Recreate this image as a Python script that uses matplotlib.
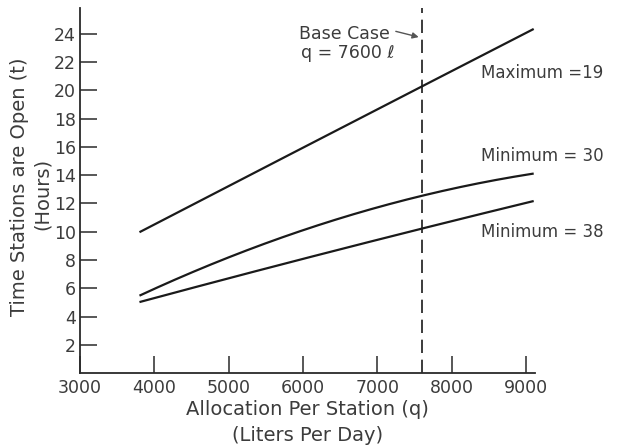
import matplotlib
matplotlib.use("Agg")
import matplotlib.pyplot as plt
import numpy as np

# Allocation per station (liters per day) and hours stations are open
alloc = [3800, 5000, 6000, 7000, 7600, 9100]
max_19 = [10.0, 13.2, 15.9, 18.7, 20.3, 24.3]
min_30 = [5.5, 8.2, 10.1, 11.7, 12.6, 14.1]
min_38 = [5.0, 6.8, 8.1, 9.4, 10.2, 12.2]

series_labels = ["Maximum =19", "Minimum = 30", "Minimum = 38"]
label_y = [21.2, 15.35, 10.0]
base_case = 7600

x_ticks = [3000, 4000, 5000, 6000, 7000, 8000, 9000]
y_ticks = [2, 4, 6, 8, 10, 12, 14, 16, 18, 20, 22, 24]

ink = "#2a2a2a"
text_ink = "#3c3c3c"
plt.rcParams["font.family"] = ["DejaVu Sans"]

fig = plt.figure(figsize=(6.18, 4.45), dpi=100)
ax = fig.add_axes([0.1294, 0.1607, 0.866 - 0.1294, 0.982 - 0.1607])

def smooth(xs, ys):
    xs = np.asarray(xs, float)
    ys = np.asarray(ys, float)
    coef = np.polyfit(xs, ys, 2)
    xx = np.linspace(xs[0], xs[-1], 200)
    return xx, np.polyval(coef, xx)

for ys in (max_19, min_30, min_38):
    xx, yy = smooth(alloc, ys)
    ax.plot(xx, yy, color="#1a1a1a", lw=1.6, solid_capstyle="butt")

ax.axvline(base_case, color="#1a1a1a", lw=1.2, dashes=(8, 4))

ax.set_xlim(3044, 9120)
ax.set_ylim(0, 25.8)

for s in ("top", "right"):
    ax.spines[s].set_visible(False)
for s in ("left", "bottom"):
    ax.spines[s].set_color(ink)
    ax.spines[s].set_linewidth(1.3)

ax.set_xticks(x_ticks)
ax.set_yticks(y_ticks)
ax.set_xticklabels([str(v) for v in x_ticks])
ax.set_yticklabels([str(v) for v in y_ticks])
ax.tick_params(axis="both", direction="in", length=12, width=1.1, color=ink,
               labelsize=12.5, labelcolor=text_ink)
ax.tick_params(axis="y", pad=3)
ax.tick_params(axis="x", pad=4)
for lbl in ax.get_xticklabels():
    lbl.set_x(lbl.get_position()[0])

# Curve labels on the right
for ly, txt in zip(label_y, series_labels):
    ax.text(8386, ly, txt, fontsize=12, color=text_ink, va="center", ha="left",
            clip_on=False)

# Base case annotation
ax.text(6560, 24.0, "Base Case", fontsize=12.5, color=text_ink, ha="center", va="center")
ax.text(6600, 22.6, "q = 7600 \u2113", fontsize=12.5, color=text_ink, ha="center", va="center")
ax.annotate("", xy=(base_case - 10, 23.7), xytext=(7210, 24.2),
            arrowprops=dict(arrowstyle="-|>", color="#555555", lw=1.0,
                            mutation_scale=9))

ax.set_xlabel("Allocation Per Station (q)\n(Liters Per Day)", fontsize=14,
              color=text_ink, linespacing=1.45, labelpad=2)
fig.text(0.032, 0.58, "Time Stations are Open (t)", rotation=90, fontsize=14,
         color=text_ink, ha="center", va="center")
fig.text(0.069, 0.565, "(Hours)", rotation=90, fontsize=14,
         color=text_ink, ha="center", va="center")

fig.savefig("out.png", dpi=100, facecolor="white")
